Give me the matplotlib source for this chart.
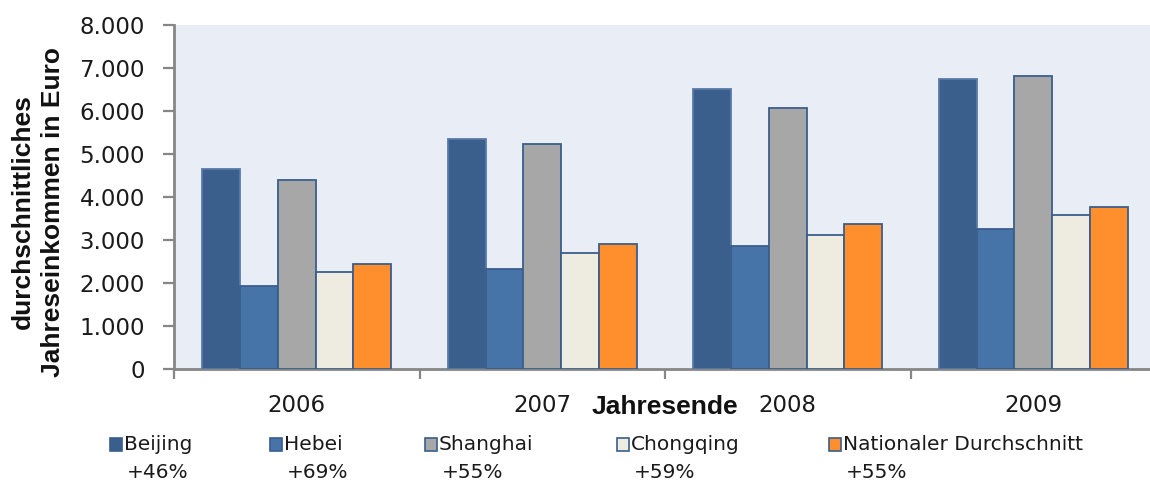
import matplotlib
matplotlib.use("Agg")
import matplotlib.pyplot as plt
from matplotlib.patches import Rectangle
from matplotlib.ticker import FuncFormatter, FixedLocator
import numpy as np

years = ["2006", "2007", "2008", "2009"]
series = ["Beijing", "Hebei", "Shanghai", "Chongqing", "Nationaler Durchschnitt"]
growth = ["+46%", "+69%", "+55%", "+59%", "+55%"]
beijing = [4640, 5350, 6520, 6740]
hebei = [1940, 2320, 2850, 3260]
shanghai = [4400, 5240, 6080, 6810]
chongqing = [2250, 2700, 3120, 3570]
national = [2450, 2900, 3380, 3775]
values = [beijing, hebei, shanghai, chongqing, national]

colors = ["#3B5F8D", "#4673A8", "#A7A7A7", "#EEECE1", "#FF8E2C"]
edges = ["#5A7AA8", "#3A5E8C", "#3A5E8C", "#3A5E8C", "#3A5E8C"]

W, H = 1150, 484
fig = plt.figure(figsize=(W / 100, H / 100), dpi=100)
ax_left, ax_right, ax_top, ax_bottom = 174, 1156, 25, 369
ax = fig.add_axes([ax_left / W, (H - ax_bottom) / H, (ax_right - ax_left) / W, (ax_bottom - ax_top) / H])
ax.set_facecolor("#E9EDF5")

x = np.arange(len(years))
bw = 0.154
for k, (vals, c, e) in enumerate(zip(values, colors, edges)):
    ax.bar(x + (k - 2) * bw, vals, width=bw, color=c, edgecolor=e, linewidth=1.3, zorder=3)

ax.set_xlim(-0.5, len(years) - 0.5)
ax.set_ylim(0, 8000)
ax.set_yticks(np.arange(0, 8001, 1000))
ax.yaxis.set_major_formatter(FuncFormatter(lambda v, p: f"{int(v):,}".replace(",", ".")))

ax.xaxis.set_major_locator(FixedLocator(np.arange(-0.5, len(years), 1.0)))
ax.xaxis.set_minor_locator(FixedLocator(x))
ax.set_xticklabels([], minor=False)
ax.set_xticklabels(years, minor=True)

spine_c = "#868686"
for s in ["top", "right"]:
    ax.spines[s].set_visible(False)
for s in ["left", "bottom"]:
    ax.spines[s].set_color(spine_c)
    ax.spines[s].set_linewidth(2)

ax.tick_params(axis="y", direction="out", length=8, width=1.6, color=spine_c, pad=13,
               labelsize=16.5, labelcolor="#1a1a1a")
ax.tick_params(axis="x", which="major", direction="out", length=7, width=1.6, color=spine_c)
ax.tick_params(axis="x", which="minor", length=0, pad=18, labelsize=16.5, labelcolor="#1a1a1a")

fig.text(665 / W, 1 - 407 / H, "Jahresende", ha="center", va="center",
         fontsize=19, fontweight="bold", family="Liberation Sans", color="#111111")
fig.text(38 / W, 1 - 212 / H, "durchschnittliches\nJahreseinkommen in Euro", rotation=90,
         ha="center", va="center", multialignment="center", fontsize=19,
         fontweight="bold", family="Liberation Sans", color="#111111", linespacing=1.3)

marker_x = [110, 270, 425, 617, 829]
for mx, name, g, c, e in zip(marker_x, series, growth, colors, edges):
    fig.add_artist(Rectangle((mx / W, 1 - 451 / H), 12 / W, 13 / H, transform=fig.transFigure,
                             facecolor=c, edgecolor="#3A5E8C", linewidth=1.2))
    fig.text((mx + 14) / W, 1 - 444 / H, name, ha="left", va="center", fontsize=14.5, color="#1a1a1a")
    fig.text((mx + 17) / W, 1 - 472 / H, g, ha="left", va="center", fontsize=14.5, color="#1a1a1a")

fig.savefig("out.png", dpi=100, facecolor="white")
